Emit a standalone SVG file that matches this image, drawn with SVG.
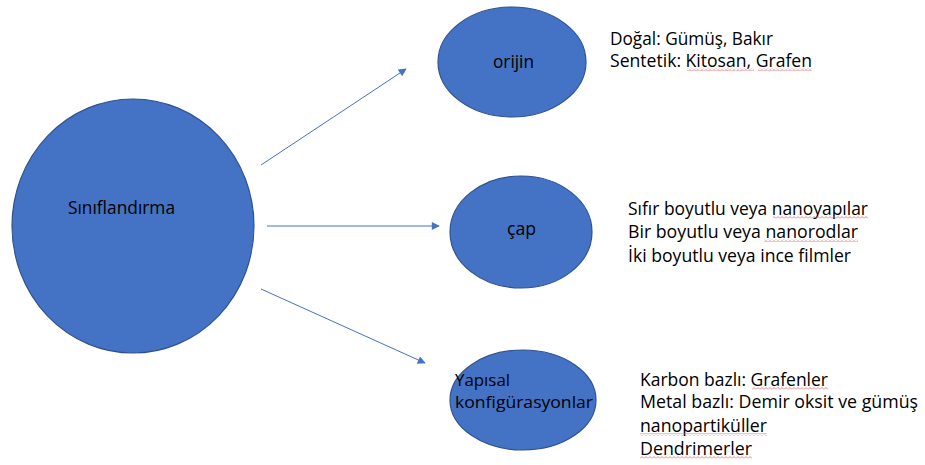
<svg xmlns="http://www.w3.org/2000/svg" width="925" height="465" viewBox="0 0 925 465">
<style>
.node{fill:#4472C4;stroke:#2F528F;stroke-width:1.2}
.t{font-family:"Open Sans","Noto Sans","Liberation Sans",sans-serif;font-size:18px;fill:#000}
.s{font-size:16px}
.conn{stroke:#4472C4;stroke-width:1;fill:none}
.sq{fill:url(#wavy)}
</style>
<defs>
<marker id="arr" viewBox="0 0 10 10" refX="9" refY="5" markerWidth="9" markerHeight="8" markerUnits="userSpaceOnUse" orient="auto">
<path d="M0,0 L10,5 L0,10 z" fill="#4472C4"/>
</marker>
<pattern id="wavy" patternUnits="userSpaceOnUse" width="4" height="3">
<polyline points="0,2.5 2,0.5 4,2.5" fill="none" stroke="#E06666" stroke-width="0.8"/>
</pattern>
</defs>
<rect width="925" height="465" fill="#fff"/>
<g id="connectors">
<line class="conn" x1="261" y1="165" x2="406" y2="69" marker-end="url(#arr)"/>
<line class="conn" x1="267" y1="226" x2="439" y2="226" marker-end="url(#arr)"/>
<line class="conn" x1="261" y1="289" x2="425" y2="363" marker-end="url(#arr)"/>
</g>
<g id="siniflandirma">
<ellipse class="node" cx="133" cy="226" rx="121" ry="127"/>
<text class="t" x="68" y="214" textLength="107" lengthAdjust="spacingAndGlyphs">Sınıflandırma</text>
</g>
<g id="orijin">
<ellipse class="node" cx="512" cy="62" rx="74" ry="55"/>
<text class="t" x="493" y="68" textLength="41" lengthAdjust="spacingAndGlyphs">orijin</text>
</g>
<g id="cap">
<ellipse class="node" cx="521" cy="232" rx="71" ry="56"/>
<text class="t" x="507" y="235" textLength="29" lengthAdjust="spacingAndGlyphs">çap</text>
</g>
<g id="yapisal">
<ellipse class="node" cx="523" cy="400" rx="73" ry="50"/>
<text class="t s" x="455" y="386" textLength="55" lengthAdjust="spacingAndGlyphs">Yapısal</text>
<text class="t s" x="455" y="408" textLength="138" lengthAdjust="spacingAndGlyphs">konfigürasyonlar</text>
</g>
<g id="orijin-text">
<text class="t" x="610" y="45" textLength="163" lengthAdjust="spacingAndGlyphs">Doğal: Gümüş, Bakır</text>
<text class="t" x="610" y="67" textLength="202" lengthAdjust="spacingAndGlyphs">Sentetik: Kitosan, Grafen</text>
<rect class="sq" x="687" y="68" width="67" height="3"/>
<rect class="sq" x="758" y="68" width="54" height="3"/>
</g>
<g id="cap-text">
<text class="t" x="628" y="215" textLength="240" lengthAdjust="spacingAndGlyphs">Sıfır boyutlu veya nanoyapılar</text>
<text class="t" x="628" y="238" textLength="230" lengthAdjust="spacingAndGlyphs">Bir boyutlu veya nanorodlar</text>
<text class="t" x="628" y="262" textLength="223" lengthAdjust="spacingAndGlyphs">İki boyutlu veya ince filmler</text>
<rect class="sq" x="773" y="216" width="95" height="3"/>
<rect class="sq" x="764" y="239" width="94" height="3"/>
</g>
<g id="yapisal-text">
<text class="t" x="640" y="386" textLength="188" lengthAdjust="spacingAndGlyphs">Karbon bazlı: Grafenler</text>
<text class="t" x="640" y="408" textLength="278" lengthAdjust="spacingAndGlyphs">Metal bazlı: Demir oksit ve gümüş</text>
<text class="t" x="640" y="432" textLength="127" lengthAdjust="spacingAndGlyphs">nanopartiküller</text>
<text class="t" x="640" y="455" textLength="112" lengthAdjust="spacingAndGlyphs">Dendrimerler</text>
<rect class="sq" x="752" y="387" width="76" height="3"/>
<rect class="sq" x="640" y="433" width="127" height="3"/>
<rect class="sq" x="640" y="456" width="112" height="3"/>
</g>
</svg>
